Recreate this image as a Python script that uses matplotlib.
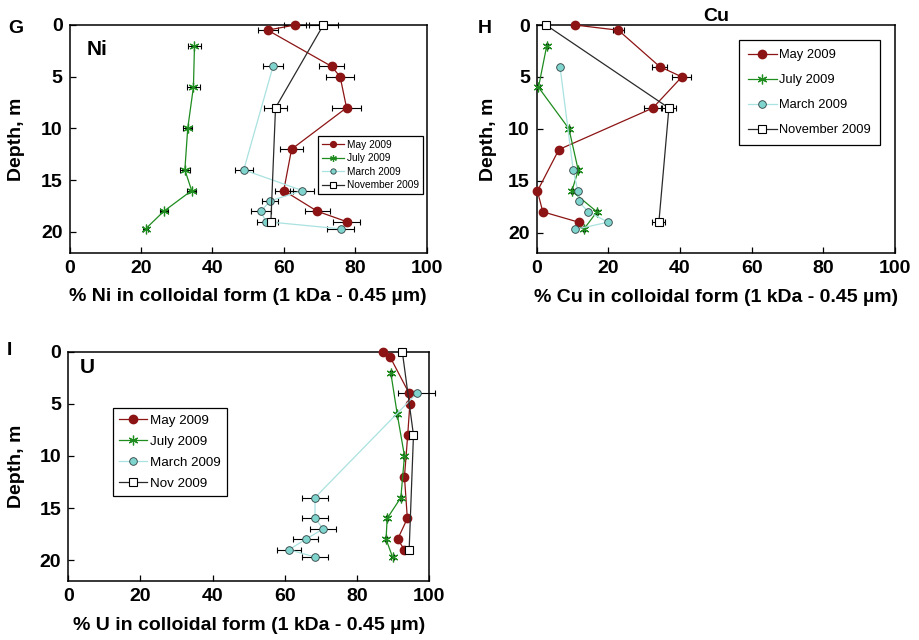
import matplotlib.pyplot as plt

plt.rcParams['font.family'] = ['Liberation Sans', 'DejaVu Sans']

# sampling depths (m) for each campaign
depth_may = [0, 0.5, 4, 5, 8, 12, 16, 18, 19]
depth_jul = [2, 6, 10, 14, 16, 18, 19.7]
depth_mar = [4, 14, 16, 17, 18, 19, 19.7]
depth_nov = [0, 8, 19]

# Ni, % in colloidal form
ni_may = [63.2, 55.5, 73.4, 75.8, 77.6, 62.2, 60.0, 69.4, 77.6]
ni_may_err = [3.1, 2.8, 3.6, 3.9, 4.0, 3.2, 2.5, 3.5, 3.8]
ni_jul = [35.0, 34.7, 33.1, 32.3, 34.2, 26.4, 21.3]
ni_jul_err = [1.7, 1.8, 1.3, 1.3, 1.3, 1.2, 0.8]
ni_mar = [57.0, 48.8, 65.2, 56.2, 53.6, 55.0, 76.0]
ni_mar_err = [2.8, 2.5, 3.4, 2.3, 2.9, 2.6, 3.8]
ni_nov = [71.1, 57.7, 56.4]
ni_nov_err = [4.0, 3.1, 2.0]

# Cu
cu_may = [10.7, 22.8, 34.3, 40.5, 32.4, 6.2, 0.2, 1.7, 11.7]
cu_may_err = [0.5, 1.5, 2.2, 2.6, 2.5, 0.3, 0.3, 0.3, 0.5]
cu_jul = [2.8, 0.5, 9.0, 11.6, 9.8, 16.8, 13.1]
cu_jul_err = [0.3, 0.3, 0.3, 0.3, 0.3, 0.3, 0.3]
cu_mar = [6.5, 10.2, 11.5, 11.7, 14.4, 19.9, 10.7]
cu_mar_err = [0.3, 0.3, 0.3, 0.3, 0.3, 0.3, 0.3]
cu_nov = [2.6, 36.9, 34.1]
cu_nov_err = [0.5, 2.1, 1.8]

# U
u_may = [87.2, 89.2, 94.5, 94.7, 94.1, 93.2, 94.0, 91.3, 93.2]
u_may_err = [0.3, 0.3, 0.3, 0.3, 0.3, 0.3, 0.3, 0.3, 0.3]
u_jul = [89.4, 91.2, 93.2, 92.2, 88.4, 88.1, 89.9]
u_jul_err = [0.3, 0.3, 0.3, 0.3, 0.3, 0.3, 0.3]
u_mar = [96.6, 68.4, 68.4, 70.7, 65.8, 61.2, 68.4]
u_mar_err = [5.2, 3.6, 3.6, 3.6, 3.4, 3.3, 3.6]
u_nov = [92.6, 95.7, 94.5]
u_nov_err = [0.4, 0.4, 0.4]

may_c = '#8c1414'
jul_c = '#1e8c1e'
styles = [
    dict(color=may_c, marker='o', ms=6, mfc=may_c, mec=may_c, lw=0.9),
    dict(color=jul_c, marker=(6, 2, 0), ms=7, mew=0.9, lw=0.9),
    dict(color='#a9e2e0', marker='o', ms=5.5, mfc='#80d4ce', mec='#2f3f3f', mew=0.6, lw=0.9),
    dict(color='#2a2a2a', marker='s', ms=5.5, mfc='white', mec='black', mew=0.8, lw=0.9),
]
depths = [depth_may, depth_jul, depth_mar, depth_nov]


def draw_panel(ax, values, errors, labels):
    for d, x, e, lab, st in zip(depths, values, errors, labels, styles):
        eb = ax.errorbar(x, d, xerr=e, fmt='none', ecolor='black', elinewidth=0.8,
                         capsize=2.5, capthick=0.8, zorder=2)
        for art in eb.get_children():
            art.set_clip_on(False)
        ax.plot(x, d, label=lab, zorder=3, clip_on=False, **st)
    ax.set_xlim(0, 100)
    ax.set_ylim(22, 0)
    ax.set_xticks([0, 20, 40, 60, 80, 100])
    ax.set_yticks([0, 5, 10, 15, 20])
    ax.tick_params(direction='in', length=4, width=0.9, labelsize=14, pad=5)
    for lab in ax.get_xticklabels() + ax.get_yticklabels():
        lab.set_fontweight('bold')
    for sp in ax.spines.values():
        sp.set_linewidth(1.1)
    ax.set_ylabel('Depth, m', fontsize=14, fontweight='bold')


fig = plt.figure(figsize=(9.19, 6.4), dpi=100)
ax_g = fig.add_axes([0.0757, 0.6052, 0.3884, 0.3558])
ax_h = fig.add_axes([0.584, 0.6042, 0.3899, 0.3567])
ax_i = fig.add_axes([0.0743, 0.0922, 0.3925, 0.3583])

full_names = ['May 2009', 'July 2009', 'March 2009', 'November 2009']

# Panel G: Ni
draw_panel(ax_g, [ni_may, ni_jul, ni_mar, ni_nov],
           [ni_may_err, ni_jul_err, ni_mar_err, ni_nov_err], full_names)
ax_g.set_xlabel('% Ni in colloidal form (1 kDa - 0.45 µm)', fontsize=14, fontweight='bold')
ax_g.text(0.049, 0.868, 'Ni', transform=ax_g.transAxes, fontsize=15, fontweight='bold')
ax_g.legend(loc='upper right', bbox_to_anchor=(0.989, 0.514), borderaxespad=0,
            fontsize=7.3, fancybox=False, edgecolor='black', framealpha=1,
            labelspacing=0.35, handlelength=2.2, handletextpad=0.2, markerscale=0.7,
            borderpad=0.4).get_frame().set_linewidth(0.9)

# Panel H: Cu
draw_panel(ax_h, [cu_may, cu_jul, cu_mar, cu_nov],
           [cu_may_err, cu_jul_err, cu_mar_err, cu_nov_err], full_names)
ax_h.set_xlabel('% Cu in colloidal form (1 kDa - 0.45 µm)', fontsize=14, fontweight='bold')
ax_h.set_title('Cu', fontsize=14, fontweight='bold', pad=3)
ax_h.legend(loc='upper right', bbox_to_anchor=(0.958, 0.934), borderaxespad=0,
            fontsize=9.3, fancybox=False, edgecolor='black', framealpha=1,
            labelspacing=1.0, handlelength=2.2, handletextpad=0.2,
            borderpad=0.7).get_frame().set_linewidth(0.9)

# Panel I: U
draw_panel(ax_i, [u_may, u_jul, u_mar, u_nov],
           [u_may_err, u_jul_err, u_mar_err, u_nov_err],
           ['May 2009', 'July 2009', 'March 2009', 'Nov 2009'])
ax_i.set_xlabel('% U in colloidal form (1 kDa - 0.45 µm)', fontsize=14, fontweight='bold')
ax_i.text(0.032, 0.906, 'U', transform=ax_i.transAxes, fontsize=15, fontweight='bold')
ax_i.legend(loc='upper left', bbox_to_anchor=(0.123, 0.756), borderaxespad=0,
            fontsize=9.6, fancybox=False, edgecolor='black', framealpha=1,
            labelspacing=0.65, handlelength=2.1, handletextpad=0.2,
            borderpad=0.5).get_frame().set_linewidth(0.9)

ax_g.yaxis.set_label_coords(-0.125, 0.5)
ax_h.yaxis.set_label_coords(-0.111, 0.5)
ax_i.yaxis.set_label_coords(-0.12, 0.5)
for ax in (ax_g, ax_h, ax_i):
    ax.xaxis.set_label_coords(0.5, -0.155)

fig.text(8 / 919, 1 - 33 / 640, 'G', fontsize=14, fontweight='bold')
fig.text(478 / 919, 1 - 33 / 640, 'H', fontsize=14, fontweight='bold')
fig.text(7 / 919, 1 - 355 / 640, 'I', fontsize=14, fontweight='bold')

plt.savefig('out.png', dpi=100)
plt.close()
